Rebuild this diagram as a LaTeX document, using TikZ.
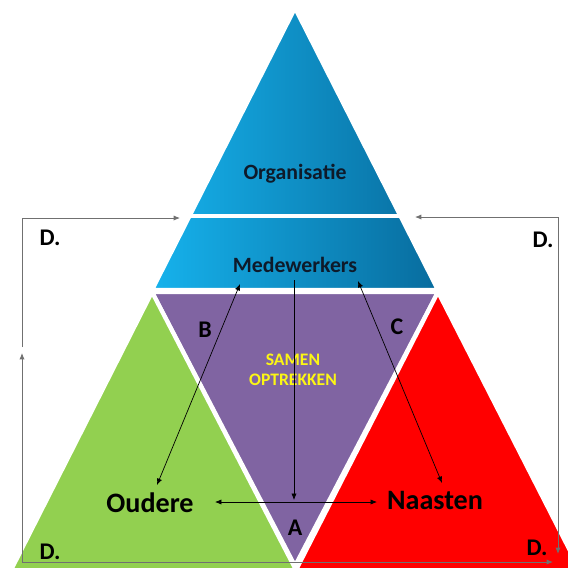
\documentclass[tikz,border=0pt]{standalone}
\usepackage{fontspec}
\setmainfont{Carlito}
\usepackage{xcolor}
\usetikzlibrary{arrows.meta,positioning}

\definecolor{blauwL}{RGB}{22,178,236}
\definecolor{blauwD}{RGB}{8,108,158}
\definecolor{groen}{RGB}{146,208,80}
\definecolor{paars}{RGB}{128,100,162}
\definecolor{rood}{RGB}{255,0,0}
\definecolor{donker}{RGB}{14,26,42}
\definecolor{geel}{RGB}{252,246,20}
\definecolor{kader}{RGB}{112,112,112}

\begin{document}
\begin{tikzpicture}[
			x=0.025cm, y=-0.025cm,
			vlak/.style={draw=white, line width=3pt, line join=miter},
			kop/.style={inner sep=0pt, text=donker, font=\bfseries\fontsize{15.5}{18}\selectfont},
			groot/.style={inner sep=0pt, text=black, font=\bfseries\fontsize{20}{24}\selectfont},
			letter/.style={inner sep=0pt, text=black, font=\bfseries\fontsize{17}{20}\selectfont},
			samen/.style={inner sep=0pt, text=geel, align=center, font=\bfseries\fontsize{12.5}{14.5}\selectfont},
			lijn/.style={draw, kader, line width=0.6pt, -{Latex[length=1.6mm,width=1.3mm]}},
			pijl/.style={draw, black, line width=0.5pt, {Latex[length=1.6mm,width=1.3mm]}-{Latex[length=1.6mm,width=1.3mm]}},
			pijl1/.style={draw, black, line width=0.5pt, -{Latex[length=1.6mm,width=1.3mm]}}
			]
			
			\useasboundingbox (0,0) rectangle (568,568);
			\clip (0,0) rectangle (568,568);
			
			% vlakken
			\fill[white] (0,0) rectangle (568,568);
			\path[vlak, fill=paars] (152,292) -- (438,292) -- (295,566) -- cycle;
			\path[vlak, fill=groen] (152,292) -- (296,570) -- (6,580) -- cycle;
			\path[vlak, fill=rood] (438,292) -- (585,580) -- (296,570) -- cycle;
			\path[vlak, left color=blauwL, right color=blauwD] (295,8) -- (438,290) -- (152,290) -- cycle;
			\draw[white, line width=2.5pt] (180,216) -- (410,216);
			
			% teksten
			\node (org) [kop] at (295,174) {Organisatie};
			\node (mede) [kop] at (295,265) {Medewerkers};
			\node (samen) [samen] at (293,370) {SAMEN\\OPTREKKEN};
			\node (oud) [groot] at (150,503) {Oudere};
			\node (naast) [groot] at (435,500) {Naasten};
			\node (lA) [letter] at (295,528) {A};
			\node (lB) [letter] at (205,330) {B};
			\node (lC) [letter] at (397,327) {C};
			\node (dLB) [letter] at (50,238) {D.};
			\node (dRB) [letter] at (543,240) {D.};
			\node (dLO) [letter] at (50,552) {D.};
			\node (dRO) [letter] at (537,548) {D.};
			
			% punten
			\coordinate (hoekLB) at (22,218);
			\coordinate (hoekLO) at (22,562);
			\coordinate (hoekRB) at (558,217);
			\coordinate (linksM) at (22,347);
			\coordinate (linksO) at (22,353);
			\coordinate (pijlL) at (180,218);
			\coordinate (pijlR) at (415,217);
			\coordinate (pijlO) at (553,562);
			\coordinate (pijlRO) at (558,554);
			\coordinate (mB) at (240,284);
			\coordinate (mA) at (294,280);
			\coordinate (mC) at (358,281);
			\coordinate (oB) at (157,485);
			\coordinate (nC) at (442,483);
			\coordinate (aA) at (294,500);
			\coordinate (oA) at (215,502);
			\coordinate (nA) at (377,502);
			
			% kader
			\draw [lijn] (linksM) -- (hoekLB) -- (pijlL);
			\draw [lijn, {Latex[length=1.6mm,width=1.3mm]}-{Latex[length=1.6mm,width=1.3mm]}] (linksO) -- (hoekLO) -- (pijlO);
			\draw [lijn, {Latex[length=1.6mm,width=1.3mm]}-{Latex[length=1.6mm,width=1.3mm]}] (pijlR) -- (hoekRB) -- (pijlRO);
			
			% pijlen
			\draw [pijl] (mB) -- (oB);
			\draw [pijl] (mC) -- (nC);
			\draw [pijl1] (mA) -- (aA);
			\draw [pijl] (oA) -- (nA);
			
		\end{tikzpicture}
\end{document}
